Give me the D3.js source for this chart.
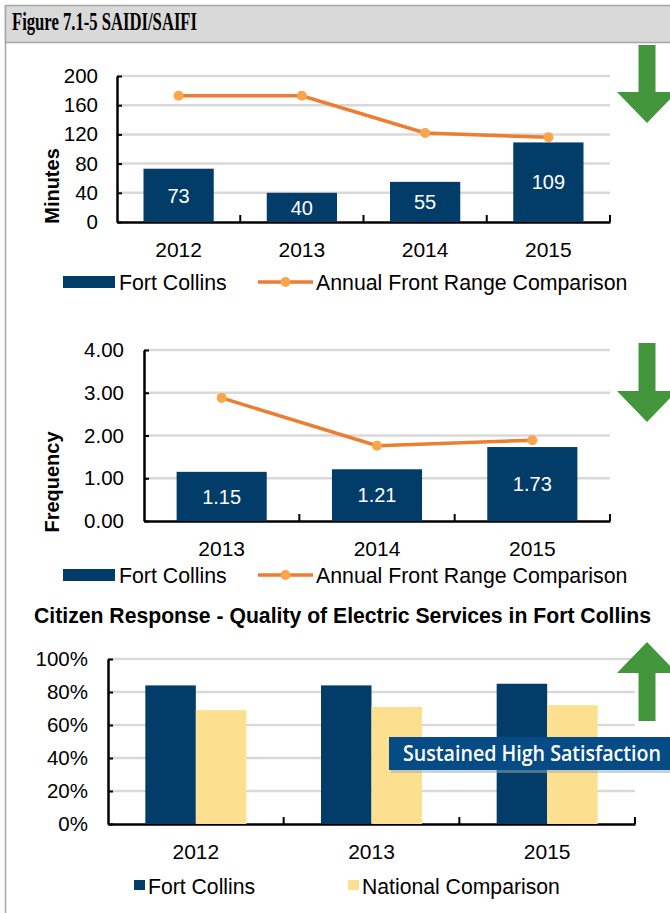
<!DOCTYPE html>
<html>
<head>
<meta charset="utf-8">
<script src="https://cdn.jsdelivr.net/npm/d3@7"></script>
<style>
  body { margin: 0; background: #fff; }
  svg { display: block; font-family: "Liberation Sans", Arial, sans-serif; }
</style>
</head>
<body>
<div id="chart"></div>
<script>
// SAIDI (minutes)
const saidiYears = ['2012', '2013', '2014', '2015'];
const saidiFortCollins = [73, 40, 55, 109];
const saidiFrontRange = [173, 173, 122, 116];
const saidiTicks = [0, 40, 80, 120, 160, 200];

// SAIFI (frequency)
const saifiYears = ['2013', '2014', '2015'];
const saifiFortCollins = [1.15, 1.21, 1.73];
const saifiFrontRange = [2.88, 1.76, 1.89];
const saifiTicks = [0, 1, 2, 3, 4];

// citizen survey (%)
const surveyYears = ['2012', '2013', '2015'];
const surveySeries = ['Fort Collins', 'National Comparison'];
const surveyFortCollins = [84, 84, 85];
const surveyNational = [69, 71, 72];
const surveyTicks = [0, 20, 40, 60, 80, 100];

const navy = '#023c69',
      orange = '#ed7d31',
      sand = '#fde08f',
      green = '#43963b',
      grid = '#d9d9d9';

const svg = d3.select('#chart')
              .append('svg')
              .attr('width', 670)
              .attr('height', 913);

// frame + header
svg.append('line')
   .attr('x1', 5.5).attr('x2', 5.5)
   .attr('y1', 5).attr('y2', 913)
   .attr('stroke', '#a6a6a6').attr('stroke-width', 1.5);
svg.append('rect')
   .attr('x', 5.5).attr('y', 5.5)
   .attr('width', 670).attr('height', 37)
   .attr('fill', '#d9d9d9')
   .attr('stroke', '#a6a6a6').attr('stroke-width', 1.5);
svg.append('text')
   .attr('x', 12).attr('y', 30)
   .attr('font-family', '"Liberation Serif", "Times New Roman", serif')
   .attr('font-weight', 'bold')
   .attr('font-size', 25)
   .attr('textLength', 185)
   .attr('lengthAdjust', 'spacingAndGlyphs')
   .text('Figure 7.1-5 SAIDI/SAIFI');

// green trend arrows
function arrow(cx, top, bottom, up) {
  const sw = 8.5, hw = 30, hh = 31;
  let pts;
  if (up) {
    pts = [[cx, top], [cx + hw, top + hh], [cx + sw, top + hh], [cx + sw, bottom],
           [cx - sw, bottom], [cx - sw, top + hh], [cx - hw, top + hh]];
  } else {
    pts = [[cx - sw, top], [cx + sw, top], [cx + sw, bottom - hh], [cx + hw, bottom - hh],
           [cx, bottom], [cx - hw, bottom - hh], [cx - sw, bottom - hh]];
  }
  svg.append('polygon')
     .attr('points', pts.map(p => p.join(',')).join(' '))
     .attr('fill', green);
}

// generic axis frame for each panel
function panel(cfg) {
  const g = svg.append('g');
  const x = d3.scaleBand()
              .domain(cfg.cats)
              .range([cfg.x0, cfg.x1])
              .paddingInner(cfg.pad)
              .paddingOuter(cfg.pad / 2);
  const y = d3.scaleLinear()
              .domain(cfg.domain)
              .range([cfg.yb, cfg.yt]);

  // gridlines
  g.append('g')
   .selectAll('line')
   .data(cfg.ticks.filter(t => t !== 0))
   .enter()
   .append('line')
   .attr('x1', cfg.x0).attr('x2', cfg.x1)
   .attr('y1', d => y(d)).attr('y2', d => y(d))
   .attr('stroke', grid).attr('stroke-width', 2.5);

  const yAxis = d3.axisLeft(y)
                  .tickValues(cfg.ticks)
                  .tickFormat(cfg.fmt)
                  .tickSizeInner(-5)
                  .tickSizeOuter(0)
                  .tickPadding(cfg.yPad);
  const ya = g.append('g')
              .attr('transform', `translate(${cfg.x0},0)`)
              .call(yAxis);
  ya.selectAll('text').attr('font-size', 20.5).attr('fill', '#000');
  ya.select('.domain').attr('stroke-width', 2.5);
  ya.selectAll('.tick line').attr('stroke-width', 2);

  const xAxis = d3.axisBottom(x).tickSize(0).tickPadding(20);
  const xa = g.append('g')
              .attr('transform', `translate(0,${cfg.yb})`)
              .call(xAxis);
  xa.selectAll('text').attr('font-size', 21).attr('fill', '#000');
  xa.select('.domain').attr('stroke-width', 2.5);

  // category boundary ticks
  g.append('g')
   .selectAll('line')
   .data(d3.range(1, cfg.cats.length + 1))
   .enter()
   .append('line')
   .attr('x1', i => cfg.x0 + i * x.step())
   .attr('x2', i => cfg.x0 + i * x.step())
   .attr('y1', cfg.yb).attr('y2', cfg.yb - 7)
   .attr('stroke', '#000').attr('stroke-width', 2);

  return { g, x, y };
}

function barLinePanel(cfg, bars, line, label) {
  const { g, x, y } = panel(cfg);
  const rows = cfg.cats.map((c, i) => ({ cat: c, bar: bars[i], line: line[i] }));

  g.append('g')
   .selectAll('rect')
   .data(rows)
   .enter()
   .append('rect')
   .attr('x', d => x(d.cat))
   .attr('y', d => y(d.bar))
   .attr('width', x.bandwidth())
   .attr('height', d => y(0) - y(d.bar))
   .attr('fill', navy);

  g.append('g')
   .selectAll('text')
   .data(rows)
   .enter()
   .append('text')
   .attr('x', d => x(d.cat) + x.bandwidth() / 2)
   .attr('y', d => (y(d.bar) + y(0)) / 2)
   .attr('dy', '0.36em')
   .attr('text-anchor', 'middle')
   .attr('font-size', 20)
   .attr('fill', '#fff')
   .text(d => cfg.label(d.bar));

  const lineGen = d3.line()
                    .x(d => x(d.cat) + x.bandwidth() / 2)
                    .y(d => y(d.line));
  g.append('path')
   .datum(rows)
   .attr('d', lineGen)
   .attr('fill', 'none')
   .attr('stroke', orange)
   .attr('stroke-width', 3.5);
  g.append('g')
   .selectAll('circle')
   .data(rows)
   .enter()
   .append('circle')
   .attr('cx', d => x(d.cat) + x.bandwidth() / 2)
   .attr('cy', d => y(d.line))
   .attr('r', 5)
   .attr('fill', '#f8a54c');

  // y title
  g.append('text')
   .attr('transform', `translate(${cfg.titleX},${cfg.titleY}) rotate(-90)`)
   .attr('text-anchor', 'middle')
   .attr('font-size', 20)
   .attr('font-weight', 'bold')
   .text(label);

  // legend
  const ly = cfg.legendY;
  g.append('rect')
   .attr('x', 63).attr('y', ly - 6)
   .attr('width', 52).attr('height', 12)
   .attr('fill', navy);
  g.append('text')
   .attr('x', 119).attr('y', ly).attr('dy', '0.36em')
   .attr('font-size', 21.3)
   .text('Fort Collins');
  g.append('line')
   .attr('x1', 258).attr('x2', 313)
   .attr('y1', ly).attr('y2', ly)
   .attr('stroke', orange).attr('stroke-width', 3.5);
  g.append('circle')
   .attr('cx', 285.5).attr('cy', ly).attr('r', 5)
   .attr('fill', '#f8a54c');
  g.append('text')
   .attr('x', 316).attr('y', ly).attr('dy', '0.36em')
   .attr('font-size', 21.3)
   .text('Annual Front Range Comparison');
}

// SAIDI
barLinePanel({
  cats: saidiYears, domain: [0, 200], ticks: saidiTicks,
  x0: 117, x1: 610, yt: 76, yb: 222, pad: 0.43, yPad: 19,
  fmt: d3.format('d'), label: d3.format('d'),
  titleX: 59, titleY: 186, legendY: 282
}, saidiFortCollins, saidiFrontRange, 'Minutes');

// SAIFI
barLinePanel({
  cats: saifiYears, domain: [0, 4], ticks: saifiTicks,
  x0: 144, x1: 610, yt: 350, yb: 521, pad: 0.42, yPad: 20,
  fmt: d3.format('.2f'), label: d3.format('.2f'),
  titleX: 59, titleY: 482, legendY: 575
}, saifiFortCollins, saifiFrontRange, 'Frequency');

// Citizen response
svg.append('text')
   .attr('x', 342.5).attr('y', 623)
   .attr('text-anchor', 'middle')
   .attr('font-size', 21.2)
   .attr('font-weight', 'bold')
   .text('Citizen Response - Quality of Electric Services in Fort Collins');

const survey = panel({
  cats: surveyYears, domain: [0, 100], ticks: surveyTicks,
  x0: 108, x1: 635, yt: 659, yb: 824, pad: 0.425, yPad: 20,
  fmt: d => d + '%'
});
const sub = d3.scaleBand()
              .domain(surveySeries)
              .range([0, survey.x.bandwidth()]);
const surveyColor = d3.scaleOrdinal().domain(surveySeries).range([navy, sand]);
const surveyRows = surveyYears.map((yr, i) => ({
  year: yr,
  values: [
    { key: surveySeries[0], v: surveyFortCollins[i] },
    { key: surveySeries[1], v: surveyNational[i] }
  ]
}));
survey.g.append('g')
  .selectAll('g')
  .data(surveyRows)
  .enter()
  .append('g')
  .attr('transform', d => `translate(${survey.x(d.year)},0)`)
  .selectAll('rect')
  .data(d => d.values)
  .enter()
  .append('rect')
  .attr('x', d => sub(d.key))
  .attr('y', d => survey.y(d.v))
  .attr('width', sub.bandwidth())
  .attr('height', d => survey.y(0) - survey.y(d.v))
  .attr('fill', d => surveyColor(d.key));

// survey legend
const legendX = [134, 348];
surveySeries.forEach((s, i) => {
  svg.append('rect')
     .attr('x', legendX[i]).attr('y', 880)
     .attr('width', 11).attr('height', 10)
     .attr('fill', surveyColor(s));
  svg.append('text')
     .attr('x', legendX[i] + 14).attr('y', 894)
     .attr('font-size', 21.2)
     .text(s);
});

// arrows
arrow(647, 45, 123, false);
arrow(647, 343, 422, false);
arrow(647, 642, 721, true);

// callout box
svg.append('rect')
   .attr('x', 391).attr('y', 739)
   .attr('width', 290).attr('height', 34)
   .attr('fill', '#9aa7b5').attr('opacity', 0.5);
svg.append('rect')
   .attr('x', 389).attr('y', 737)
   .attr('width', 290).attr('height', 33)
   .attr('fill', '#054b86');
svg.append('text')
   .attr('transform', 'translate(403,754) scale(1,1.15)')
   .attr('dy', '0.36em')
   .attr('font-family', '"Open Sans", "Noto Sans", sans-serif')
   .attr('font-weight', 600)
   .attr('font-size', 18)
   .attr('textLength', 258)
   .attr('lengthAdjust', 'spacingAndGlyphs')
   .attr('fill', '#fff')
   .text('Sustained High Satisfaction');
</script>
</body>
</html>
